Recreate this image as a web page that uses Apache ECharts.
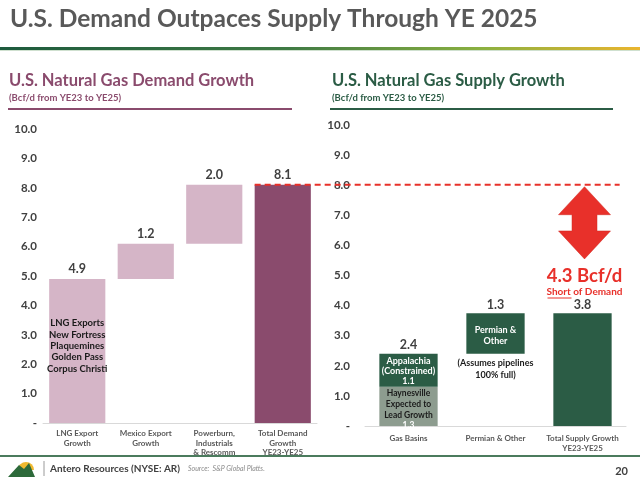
<!DOCTYPE html>
<html><head><meta charset="utf-8">
<script src="https://cdn.jsdelivr.net/npm/echarts@6/dist/echarts.min.js"></script>
<style>html,body{margin:0;padding:0;background:#fff}#c{width:640px;height:479px}</style>
</head><body><div id="c"></div>
<script>
// ---- data ----
const demandCategories = ['LNG Export\nGrowth', 'Mexico Export\nGrowth', 'Powerburn,\nIndustrials\n& Rescomm', 'Total Demand\nGrowth\nYE23-YE25'];
const demandBase = [0, 4.9, 6.1, 0];
const demandValues = [4.9, 1.2, 2.0, 8.1];
const demandTopLabels = ['4.9', '1.2', '2.0', '8.1'];
const lngProjects = ['New Fortress', 'Plaquemines', 'Golden Pass', 'Corpus Christi'];

const supplyCategories = ['Gas Basins', 'Permian & Other', 'Total Supply Growth\nYE23-YE25'];
const supplyBase = [0, 2.4, 0];
const supplyLower = [1.3, 1.35, 3.75];   // Haynesville / Permian & Other / Total
const supplyUpper = [1.1, 0, 0];         // Appalachia
const supplyTopLabels = ['2.4', '1.3', '3.8'];
const supplyLowerLabels = ['1.3', '', ''];
const supplyUpperLabels = ['1.1', '', ''];

const yTicks = { min: 0, max: 10, interval: 1 };
const demandLine = 8.1;
const shortfall = '4.3 Bcf/d';

// ---- styles ----
const FONT = 'Lato';
const maroon = '#8a4b6d', pink = '#d5b5c7', green = '#2b5c45', grayGreen = '#8d9c8f';
const txt = '#404040', red = '#e8302a';

const chart = echarts.init(document.getElementById('c'));

function yAxis(gridIndex, margin) {
  return {
    type: 'value', gridIndex, min: yTicks.min, max: yTicks.max, interval: yTicks.interval,
    splitLine: { show: false }, axisLine: { show: false }, axisTick: { show: false },
    axisLabel: { margin, color: txt, fontFamily: FONT, fontWeight: 'bold', fontSize: 11.5,
      formatter: v => v === 0 ? '-' : v.toFixed(1) }
  };
}
function xAxis(gridIndex, data, margin, lh) {
  return {
    type: 'category', gridIndex, data,
    axisLine: { lineStyle: { color: '#d9d9d9', width: 1 } }, axisTick: { show: false },
    axisLabel: { margin, color: '#595959', fontFamily: FONT, fontWeight: 'bold', fontSize: 8, lineHeight: lh, interval: 0 }
  };
}

const capLabel = (arr, dist) => ({ show: true, position: 'top', distance: dist, color: txt,
  fontFamily: FONT, fontWeight: 'bold', fontSize: 12.5, formatter: p => arr[p.dataIndex] });

const option = {
  animation: false,
  grid: [
    { left: 43, top: 129, width: 274, height: 294 },
    { left: 365, top: 125, width: 261, height: 301 }
  ],
  xAxis: [xAxis(0, demandCategories, 6, 9.5), xAxis(1, supplyCategories, 7, 10.5)],
  yAxis: [yAxis(0, 6), yAxis(1, 15)],
  series: [
    { type: 'bar', xAxisIndex: 0, yAxisIndex: 0, stack: 'd', barWidth: '82%', silent: true,
      itemStyle: { color: 'transparent' }, data: demandBase },
    { type: 'bar', xAxisIndex: 0, yAxisIndex: 0, stack: 'd', barWidth: '82%',
      data: demandValues.map((v, i) => ({
        value: v,
        itemStyle: { color: i === 3 ? maroon : pink },
        label: i === 0 ? {
          show: true, position: 'inside', offset: [0, -5],
          formatter: () => '{h|LNG Exports}\n' + lngProjects.map(s => '{n|' + s + '}').join('\n'),
          rich: {
            h: { fontFamily: FONT, fontWeight: 'bold', fontSize: 9.5, color: '#1a1a1a', lineHeight: 11.3 },
            n: { fontFamily: FONT, fontWeight: 'bold', fontSize: 9.5, color: '#1a1a1a', lineHeight: 11.3 }
          }
        } : { show: false }
      })) },
    { type: 'bar', xAxisIndex: 0, yAxisIndex: 0, stack: 'd', barWidth: '82%',
      itemStyle: { color: 'transparent' }, data: demandValues.map(() => 0),
      label: capLabel(demandTopLabels, 3) },

    { type: 'bar', xAxisIndex: 1, yAxisIndex: 1, stack: 's', barWidth: '67%', silent: true,
      itemStyle: { color: 'transparent' },
      data: supplyBase.map((v, i) => ({ value: v,
        label: i === 1 ? { show: true, position: 'insideTop', distance: 3,
          formatter: '(Assumes pipelines\n100% full)', color: '#1a1a1a', fontFamily: FONT,
          fontWeight: 'bold', fontSize: 9, lineHeight: 12 } : { show: false } })) },
    { type: 'bar', xAxisIndex: 1, yAxisIndex: 1, stack: 's', barWidth: '67%',
      data: supplyLower.map((v, i) => ({ value: v,
        itemStyle: { color: i === 0 ? grayGreen : green },
        label: i === 0 ? {
          show: true, position: 'inside', offset: [0, 3],
          formatter: () => '{d|Haynesville}\n{d|Expected to}\n{d|Lead Growth}\n{w|' + supplyLowerLabels[0] + '}',
          rich: {
            d: { fontFamily: FONT, fontWeight: 'bold', fontSize: 8.5, color: '#1a1a1a', lineHeight: 10.7 },
            w: { fontFamily: FONT, fontWeight: 'bold', fontSize: 8.5, color: '#fff', lineHeight: 10.7 }
          }
        } : i === 1 ? { show: true, position: 'inside', offset: [0, 2], formatter: 'Permian &\nOther',
          color: '#fff', fontFamily: FONT, fontWeight: 'bold', fontSize: 9, lineHeight: 11 } : { show: false } })) },
    { type: 'bar', xAxisIndex: 1, yAxisIndex: 1, stack: 's', barWidth: '67%',
      itemStyle: { color: green },
      data: supplyUpper.map((v, i) => ({ value: v,
        label: supplyUpperLabels[i] ? { show: true, position: 'inside', offset: [0, 1],
          formatter: 'Appalachia\n(Constrained)\n' + supplyUpperLabels[i], color: '#fff',
          fontFamily: FONT, fontWeight: 'bold', fontSize: 9, lineHeight: 10 } : { show: false } })) },
    { type: 'bar', xAxisIndex: 1, yAxisIndex: 1, stack: 's', barWidth: '67%',
      itemStyle: { color: 'transparent' }, data: supplyTopLabels.map(() => 0),
      label: capLabel(supplyTopLabels, 2) }
  ]
};
chart.setOption(option);

// ---- annotations placed from axis scales ----
const px = (g, x, y) => chart.convertToPixel({ gridIndex: g }, [x, y]);
const lTot = px(0, 3, demandLine);
const lBw = 274 / 4 * 0.82;
const rTot = px(1, 2, 0);
const rBw = 261 / 3 * 0.67;
const yLine = lTot[1];
const ax = rTot[0] + 2;
const aTop = px(1, 2, 7.95)[1], aBot = px(1, 2, 5.55)[1];
const hw = 26, sw = 12.5, hh = 28;

chart.setOption({ graphic: [
  // slide title & rule
  { type: 'text', left: 10, top: 7, style: { text: 'U.S. Demand Outpaces Supply Through YE 2025',
    font: 'bold 24.5px ' + FONT, fill: '#595959' } },
  { type: 'rect', shape: { x: 0, y: 47, width: 640, height: 3 },
    style: { fill: new echarts.graphic.LinearGradient(0, 0, 1, 0, [
      { offset: 0, color: '#1d5a3d' }, { offset: 0.45, color: '#3f7a44' },
      { offset: 0.75, color: '#8ab040' }, { offset: 1, color: '#eab52e' }]) } },
  { type: 'rect', shape: { x: 0, y: 50, width: 640, height: 1 }, style: { fill: '#cfe0cf' } },

  // panel titles
  { type: 'text', x: 9, y: 81, style: { text: 'U.S. Natural Gas Demand Growth', font: 'bold 16.5px ' + FONT,
    fill: maroon, verticalAlign: 'middle' } },
  { type: 'text', x: 9, y: 98, style: { text: '(Bcf/d from YE23 to YE25)', font: 'bold 9.5px ' + FONT,
    fill: maroon, verticalAlign: 'middle' } },
  { type: 'line', shape: { x1: 8, y1: 109, x2: 292, y2: 109 }, style: { stroke: maroon, lineWidth: 2 } },
  { type: 'text', x: 332, y: 81, style: { text: 'U.S. Natural Gas Supply Growth', font: 'bold 16.5px ' + FONT,
    fill: green, verticalAlign: 'middle' } },
  { type: 'text', x: 332, y: 98, style: { text: '(Bcf/d from YE23 to YE25)', font: 'bold 9.5px ' + FONT,
    fill: green, verticalAlign: 'middle' } },
  { type: 'line', shape: { x1: 330, y1: 109, x2: 613, y2: 109 }, style: { stroke: green, lineWidth: 2 } },

  // underline for LNG Exports
  { type: 'line', shape: { x1: px(0, 0, 0)[0] - 25, y1: 328.5, x2: px(0, 0, 0)[0] + 25, y2: 328.5 },
    style: { stroke: '#1a1a1a', lineWidth: 1 } },

  // demand line
  { type: 'line', z: 50, shape: { x1: lTot[0] - lBw / 2, y1: yLine, x2: rTot[0] + rBw / 2 + 8, y2: yLine },
    style: { stroke: red, lineWidth: 2, lineDash: [6, 4] } },

  // double arrow
  { type: 'polygon', z: 50, shape: { points: [
    [ax, aTop], [ax + hw, aTop + hh], [ax + sw, aTop + hh], [ax + sw, aBot - hh], [ax + hw, aBot - hh],
    [ax, aBot], [ax - hw, aBot - hh], [ax - sw, aBot - hh], [ax - sw, aTop + hh], [ax - hw, aTop + hh]] },
    style: { fill: red, stroke: '#d02820', lineWidth: 0.5 } },
  { type: 'text', z: 50, x: ax, y: 276, style: { text: shortfall, font: 'bold 18.5px ' + FONT, fill: red,
    align: 'center', verticalAlign: 'middle' } },
  { type: 'text', z: 50, x: ax, y: 292, style: { text: 'Short of Demand', font: 'bold 10px ' + FONT, fill: red,
    align: 'center', verticalAlign: 'middle' } },
  { type: 'line', z: 50, shape: { x1: ax - 37, y1: 298, x2: ax - 13, y2: 298 }, style: { stroke: red, lineWidth: 1 } },

  // footer
  { type: 'line', shape: { x1: 0, y1: 456, x2: 640, y2: 456 }, style: { stroke: '#4b7b5d', lineWidth: 2 } },
  { type: 'sector', shape: { cx: 26, cy: 470, r: 8, r0: 0, startAngle: Math.PI, endAngle: 2 * Math.PI },
    style: { fill: '#f0b92f' } },
  { type: 'polygon', shape: { points: [[8, 477], [19, 465], [24, 469], [29, 463], [35, 477]] },
    style: { fill: '#2d6a3a' } },
  { type: 'line', shape: { x1: 44, y1: 461, x2: 44, y2: 476 }, style: { stroke: '#9a9a9a', lineWidth: 1 } },
  { type: 'text', x: 50, y: 469, style: { text: 'Antero Resources (NYSE: AR)', font: 'bold 10px ' + FONT,
    fill: '#404040', verticalAlign: 'middle' } },
  { type: 'text', x: 188, y: 469, style: { text: 'Source:  S&P Global Platts.', font: 'italic 7px ' + FONT,
    fill: '#8a8a8a', verticalAlign: 'middle' } },
  { type: 'text', x: 628, y: 471, style: { text: '20', font: 'bold 11px ' + FONT, fill: '#404040',
    align: 'right', verticalAlign: 'middle' } }
] });
</script></body></html>
